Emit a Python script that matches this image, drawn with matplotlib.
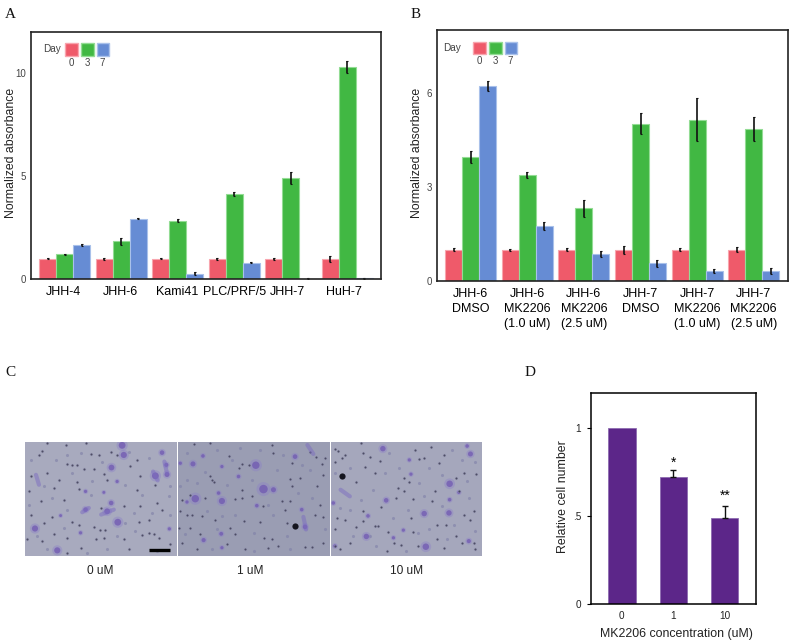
import numpy as np
import matplotlib
matplotlib.use("Agg")
import matplotlib.pyplot as plt
from matplotlib.patches import Rectangle

plt.rcParams['font.family'] = ['Liberation Sans', 'DejaVu Sans']

W, H = 792, 644
RED, GREEN, BLUE = '#EF5A6A', '#41B843', '#668CD4'
RED_E, GREEN_E, BLUE_E = '#F8A5AE', '#93DC94', '#A9C1EA'
PURPLE = '#5C2689'
GREY = '#444444'

# panel A
a_lines = ['JHH-4', 'JHH-6', 'Kami41', 'PLC/PRF/5', 'JHH-7', 'HuH-7']
a_day0 = [1.0, 1.0, 1.0, 1.0, 1.0, 1.0]
a_day3 = [1.23, 1.85, 2.84, 4.16, 4.92, 10.3]
a_day7 = [1.69, 2.94, 0.28, 0.81, 0.03, 0.06]
a_err0 = [0.03, 0.06, 0.02, 0.06, 0.04, 0.15]
a_err3 = [0.03, 0.17, 0.07, 0.09, 0.29, 0.27]
a_err7 = [0.05, 0.03, 0.08, 0.03, 0.02, 0.03]

# panel B
b_lines = ['JHH-6\nDMSO', 'JHH-6\nMK2206\n(1.0 uM)', 'JHH-6\nMK2206\n(2.5 uM)',
           'JHH-7\nDMSO', 'JHH-7\nMK2206\n(1.0 uM)', 'JHH-7\nMK2206\n(2.5 uM)']
b_day0 = [1.0, 1.0, 1.0, 1.0, 1.0, 1.0]
b_day3 = [3.96, 3.38, 2.32, 5.01, 5.14, 4.84]
b_day7 = [6.22, 1.76, 0.86, 0.56, 0.32, 0.32]
b_err0 = [0.04, 0.03, 0.05, 0.13, 0.05, 0.08]
b_err3 = [0.19, 0.10, 0.27, 0.34, 0.69, 0.38]
b_err7 = [0.15, 0.12, 0.09, 0.12, 0.07, 0.09]

# panel D
d_conc = ['0', '1', '10']
d_vals = [1.0, 0.72, 0.49]
d_err = [0.0, 0.04, 0.065]

# panel C, spots (crop px x, crop px y, size)
c_labels = ['0 uM', '1 uM', '10 uM']
c_bg = ['#A8AABE', '#9A9DB3', '#A5A7BC']
c_blobs = [
    [(295, 16, 110), (300, 45, 90), (263, 83, 80), (395, 108, 110), (428, 75, 40),
     (430, 104, 60), (415, 38, 50), (185, 210, 50), (250, 215, 80), (262, 190, 50), (282, 248, 110),
     (33, 267, 90), (100, 333, 90), (280, 125, 25), (185, 155, 25), (170, 280, 25), (437, 268, 25),
     (110, 228, 20), (240, 158, 20)],
    [(237, 76, 130), (260, 148, 170), (55, 177, 130), (135, 184, 90), (48, 72, 60), (125, 160, 30),
     (78, 48, 30), (135, 80, 25), (385, 262, 50), (355, 50, 50), (290, 150, 60),
     (133, 283, 35), (80, 302, 40), (240, 198, 30), (185, 110, 30), (10, 70, 25), (375, 210, 30),
     (135, 325, 25), (30, 187, 25)],
    [(160, 26, 70), (362, 132, 100), (285, 222, 70), (360, 220, 70), (110, 291, 70),
     (290, 322, 100), (170, 182, 50), (425, 42, 60), (415, 18, 30), (115, 229, 30), (10, 190, 30),
     (362, 180, 30), (222, 272, 25), (240, 60, 25), (245, 103, 25), (420, 305, 40), (192, 295, 25),
     (390, 158, 25), (15, 320, 30)],
]
# elongated cells: x0, y0, x1, y1
c_streaks = [
    [(36, 105, 45, 135), (232, 225, 270, 210), (175, 218, 195, 205), (422, 65, 430, 100), (388, 95, 402, 122)],
    [(392, 15, 410, 42), (380, 232, 388, 270)],
    [(32, 150, 60, 170)],
]
c_dots = [
    [(45, 45), (55, 32), (130, 72), (145, 75), (160, 75), (180, 88), (210, 88), (240, 102), (262, 35),
     (280, 45), (340, 60), (320, 78), (395, 135), (15, 155), (90, 145), (160, 128), (165, 148), (230, 205),
     (340, 150), (375, 240), (350, 198), (345, 248), (400, 190), (415, 210), (50, 185), (20, 225), (145, 248),
     (165, 255), (228, 272), (245, 272), (240, 295), (355, 288), (375, 282), (392, 283), (405, 295), (130, 295),
     (60, 250), (85, 232), (210, 262), (300, 300), (250, 120), (70, 100), (105, 120), (200, 42), (225, 45),
     (125, 15), (70, 8), (185, 10), (350, 110), (20, 110), (215, 300), (55, 305), (10, 300), (440, 315),
     (315, 330), (170, 325), (130, 340), (300, 200), (120, 180), (90, 285)],
    [(155, 48), (100, 8), (50, 12), (285, 15), (400, 35), (418, 50), (435, 72), (445, 55), (195, 72), (215, 75),
     (105, 120), (110, 128), (185, 85), (340, 118), (345, 140), (195, 152), (175, 178), (195, 175), (40, 165),
     (85, 175), (15, 182), (315, 185), (340, 185), (325, 210), (258, 200), (30, 225), (45, 225), (75, 228),
     (200, 245), (160, 265), (40, 265), (250, 248), (355, 258), (415, 225), (440, 232), (262, 295), (285, 300),
     (150, 315), (205, 330), (275, 325), (305, 320), (385, 322), (405, 322), (440, 310), (15, 310), (70, 285),
     (100, 110), (225, 168), (345, 70), (290, 40), (440, 105), (420, 140), (370, 115), (430, 195), (10, 215),
     (175, 285), (330, 250), (5, 265), (60, 330), (115, 240)],
    [(15, 28), (25, 32), (45, 45), (35, 55), (15, 65), (95, 8), (100, 40), (120, 50), (150, 62), (105, 82),
     (80, 128), (225, 115), (225, 155), (240, 128), (205, 145), (270, 58), (258, 30), (330, 70), (345, 45),
     (380, 115), (405, 100), (442, 102), (390, 155), (318, 155), (155, 202), (135, 258), (145, 258), (175, 278),
     (245, 235), (250, 278), (325, 255), (350, 255), (405, 225), (435, 215), (425, 242), (100, 215), (45, 240),
     (20, 235), (80, 262), (15, 270), (15, 320), (30, 328), (195, 312), (215, 318), (172, 335), (325, 300),
     (380, 290), (435, 310), (400, 310), (345, 325), (265, 320), (60, 312), (135, 100), (305, 22), (285, 55),
     (200, 175), (310, 185), (250, 178), (100, 245), (440, 330)],
]
# fainter specks between the dark ones
c_faint = [
    [(95, 60), (170, 40), (235, 65), (315, 35), (375, 55), (85, 175), (130, 210), (60, 140), (205, 125), (305, 135),
     (355, 165), (435, 170), (440, 225), (335, 275), (305, 250), (120, 265), (70, 330), (250, 330), (400, 335), (190, 340),
     (20, 60), (130, 45), (200, 165), (440, 140), (15, 195), (40, 290), (280, 290), (145, 100), (330, 220), (385, 220)],
    [(30, 40), (120, 30), (190, 25), (250, 30), (320, 45), (375, 75), (85, 95), (30, 120), (150, 135), (225, 120),
     (300, 90), (400, 90), (365, 160), (90, 215), (135, 230), (290, 225), (230, 280), (330, 290), (105, 330), (25, 285),
     (175, 225), (405, 175), (445, 270), (340, 330), (230, 335), (60, 130), (10, 140), (120, 270), (165, 60), (275, 195)],
    [(60, 85), (180, 40), (210, 85), (300, 85), (370, 30), (440, 65), (130, 150), (30, 205), (95, 180), (270, 130),
     (285, 170), (340, 200), (420, 175), (70, 290), (140, 320), (230, 335), (300, 270), (375, 255), (440, 275), (400, 60),
     (190, 235), (235, 210), (60, 210), (165, 100), (340, 105), (15, 100), (265, 280), (120, 290), (415, 125), (355, 300)],
]
c_dark = [[], [(355, 258, 20)], [(35, 110, 20)]]


def px_axes(x0, y0, x1, y1):
    return fig.add_axes([x0 / W, 1 - y1 / H, (x1 - x0) / W, (y1 - y0) / H])


def px_text(x, y, s, **kw):
    fig.text(x / W, 1 - y / H, s, ha=kw.pop('ha', 'center'), va=kw.pop('va', 'center'), **kw)


def px_square(x0, y0, x1, y1, color, edge):
    fig.add_artist(Rectangle((x0 / W, 1 - y1 / H), (x1 - x0) / W, (y1 - y0) / H, facecolor=color,
                             edgecolor=edge, linewidth=1, transform=fig.transFigure))


def grouped(ax, day0, day3, day7, err0, err3, err7):
    x = np.arange(len(day0))
    w = 0.3
    for off, vals, errs, col, edge in [(-w, day0, err0, RED, RED_E), (0, day3, err3, GREEN, GREEN_E),
                                       (w, day7, err7, BLUE, BLUE_E)]:
        ax.bar(x + off, vals, w, color=col, edgecolor=edge, linewidth=0.8)
        ax.errorbar(x + off, vals, yerr=errs, fmt='none', ecolor='#111111', elinewidth=1.2,
                    capsize=1, capthick=0.8)
    ax.set_xlim(-0.6, 5.6)
    ax.tick_params(axis='x', length=0, labelsize=9.0, pad=5)
    ax.tick_params(axis='y', length=0, labelsize=7, labelcolor=GREY, pad=3.5)
    ax.set_ylabel('Normalized absorbance', fontsize=8.85, color='#222222', va='center')
    ax.yaxis.set_label_coords(-0.056, 0.51)
    for s in ax.spines.values():
        s.set_linewidth(1.2)
        s.set_color('#222222')


def day_legend(xs, y0, y1, xday, ydigits):
    px_text(xday, (y0 + y1) / 2, 'Day', fontsize=7.2, color=GREY)
    for x, col, edge, lab in zip(xs, [RED, GREEN, BLUE], [RED_E, GREEN_E, BLUE_E], ['0', '3', '7']):
        px_square(x, y0, x + 12.5, y1, col, edge)
        px_text(x + 6, ydigits, lab, fontsize=7, color=GREY)


fig = plt.figure(figsize=(W / 100, H / 100), dpi=100)

# A
ax = px_axes(31, 32, 381, 279.5)
grouped(ax, a_day0, a_day3, a_day7, a_err0, a_err3, a_err7)
ax.set_ylim(0, 12)
ax.set_yticks([0, 5, 10])
ax.set_xticks(np.arange(6) + np.array([-0.02, -0.02, -0.01, 0, -0.05, -0.05]))
ax.set_xticklabels(a_lines)
day_legend([65, 81, 96.5], 43.5, 55.5, 52, 62.5)

# B
ax = px_axes(436.7, 30, 787.7, 281)
grouped(ax, b_day0, b_day3, b_day7, b_err0, b_err3, b_err7)
ax.set_ylim(0, 8)
ax.set_yticks([0, 3, 6])
ax.set_xticks(np.arange(6))
ax.set_xticklabels(b_lines, linespacing=1.31)
day_legend([473, 489, 504.5], 42, 54, 451.5, 60.5)

# C
img_x = [(25, 177), (178, 330), (331, 482)]
for i, (x0, x1) in enumerate(img_x):
    ax = px_axes(x0, 441.7, x1, 556)
    ax.set_facecolor(c_bg[i])
    ax.set_xlim(3, 460)
    ax.set_ylim(350, 5)
    ax.set_xticks([])
    ax.set_yticks([])
    for s in ax.spines.values():
        s.set_visible(False)
    bx, by, bs = zip(*c_blobs[i])
    bs = np.array(bs)
    ax.scatter(bx, by, s=bs * 0.6, color='#8C80C8', alpha=0.4, linewidths=0)
    ax.scatter(bx, by, s=bs * 0.22, color='#6A4FB0', alpha=0.65, linewidths=0)
    for sx0, sy0, sx1, sy1 in c_streaks[i]:
        ax.plot([sx0, sx1], [sy0, sy1], color='#7C6CC0', alpha=0.5, lw=3, solid_capstyle='round')
    fx, fy = zip(*c_faint[i])
    ax.scatter(fx, fy, s=5, color='#7F7FA8', alpha=0.6, linewidths=0)
    dx, dy = zip(*c_dots[i])
    ax.scatter(dx, dy, s=6, color='#8F8FB0', alpha=0.5, linewidths=0)
    ax.scatter(dx, dy, s=2.2, color='#3A3A50', alpha=0.8, linewidths=0)
    if c_dark[i]:
        kx, ky, ks = zip(*c_dark[i])
        ax.scatter(kx, ky, s=ks, color='#15151F', linewidths=0)
    if i == 0:
        ax.plot([376, 440], [332, 332], color='black', lw=2.4, solid_capstyle='butt')
for x, lab in zip([100, 250, 407], c_labels):
    px_text(x, 571.5, lab, fontsize=8.6, color='#222222')

# D
ax = px_axes(591, 392.7, 755.7, 603.7)
ax.bar(np.arange(3), d_vals, 0.53, color=PURPLE, edgecolor='#8D6BB0', linewidth=0.6)
ax.errorbar(np.arange(3)[1:], d_vals[1:], yerr=[[0, 0], d_err[1:]], fmt='none', ecolor='#111111',
            elinewidth=1, capsize=2.5, capthick=1)
ax.set_xlim(-0.6, 2.6)
ax.set_ylim(0, 1.2)
ax.set_yticks([0, 0.5, 1])
ax.set_yticklabels(['0', '.5', '1'])
ax.set_xticks(np.arange(3))
ax.set_xticklabels(d_conc)
ax.tick_params(axis='x', length=0, labelsize=7.2, labelcolor='#222222', pad=5)
ax.tick_params(axis='y', length=3, width=0.8, labelsize=7.2, labelcolor='#222222', pad=4)
ax.set_ylabel('Relative cell number', fontsize=8.9, color='#222222', va='center')
ax.set_xlabel('MK2206 concentration (uM)', fontsize=8.9, color='#222222', va='center')
ax.yaxis.set_label_coords(-0.172, 0.51)
ax.xaxis.set_label_coords(0.516, -0.144)
for s in ax.spines.values():
    s.set_linewidth(1.1)
ax.text(1, 0.80, '*', ha='center', va='center', fontsize=10)
ax.text(2, 0.615, '**', ha='center', va='center', fontsize=10)

# panel letters
for x, y, lab in [(10, 14, 'A'), (416, 14, 'B'), (10, 373, 'C'), (530, 373, 'D')]:
    px_text(x, y, lab, fontsize=11, family='Liberation Serif', color='#111111')

fig.savefig('out.png', dpi=100)
